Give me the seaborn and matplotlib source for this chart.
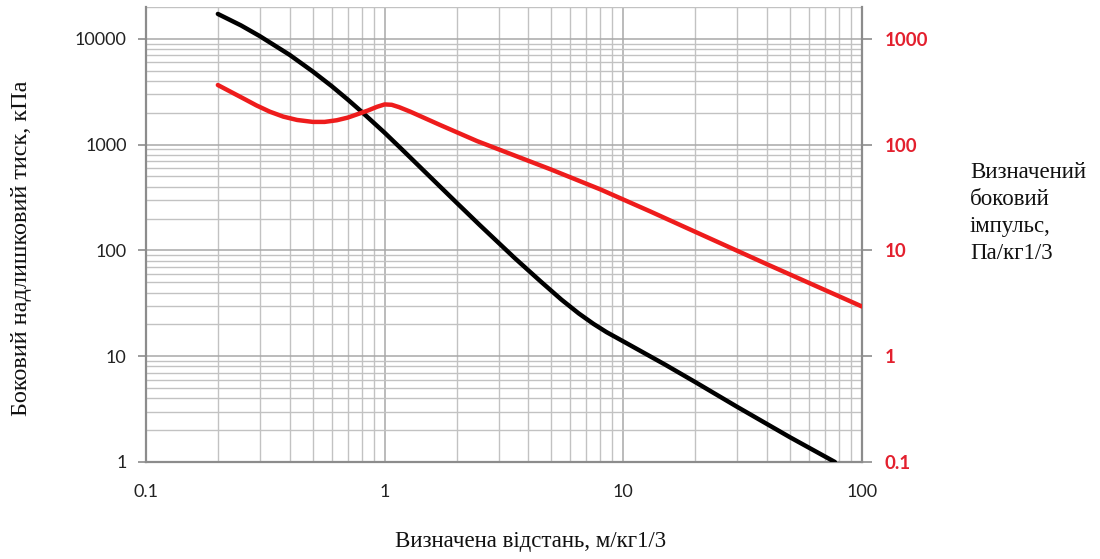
import numpy as np
import pandas as pd
import seaborn as sns
import matplotlib
matplotlib.use("Agg")
import matplotlib.pyplot as plt
from matplotlib.ticker import FixedLocator, LogLocator, NullFormatter

# ---- data ----
dist_pressure = [0.2, 0.25, 0.3, 0.4, 0.5, 0.6, 0.7, 0.8, 1.0, 1.2, 1.5, 2, 2.5, 3, 3.5, 4.5,
                 5.5, 6.5, 7.5, 8.5, 10, 15, 20, 30, 50, 77]
pressure_kpa = [17200, 13400, 10600, 7050, 4910, 3570, 2670, 2050, 1295, 871, 533, 283, 174, 118, 85, 51,
                34.3, 25.4, 20.2, 16.9, 13.8, 8.3, 5.7, 3.32, 1.71, 1.0]

dist_impulse = [0.2, 0.23, 0.26, 0.29, 0.33, 0.376, 0.43, 0.5, 0.56, 0.63, 0.7, 0.77, 0.85, 0.93,
                1.0, 1.07, 1.15, 1.28, 1.7, 2.44, 3.5, 4.94, 8, 13, 20, 40, 100]
impulse = [366, 310, 268, 235, 205, 184, 171, 164, 164, 170, 180, 194, 210, 228,
           240, 238, 226, 205, 154, 108, 79, 58.6, 37.8, 23.3, 15, 7.4, 2.95]

x_ticks = [0.1, 1, 10, 100]
x_ticklabels = ["0.1", "1", "10", "100"]
y_left_ticks = [1, 10, 100, 1000, 10000]
y_left_ticklabels = ["1", "10", "100", "1000", "10000"]
y_right_ticks = [0.1, 1, 10, 100, 1000]
y_right_ticklabels = ["0.1", "1", "10", "100", "1000"]

xlabel = "Визначена відстань, м/кг1/3"
ylabel_left = "Боковий надлишковий тиск, кПа"
ylabel_right = "Визначений\nбоковий\nімпульс,\nПа/кг1/3"

RED = "#ee1c1c"
TICK_RED = "#e3202e"
GRID = "#c2c2c2"
GRID_MAJOR = "#a8a8a8"
SPINE = "#8c8c8c"

sns.set_style("white")
plt.rcParams["font.family"] = ["Lato", "DejaVu Sans"]

fig = plt.figure(figsize=(11, 5.59), dpi=100)
ax = fig.add_axes([146 / 1100, 1 - 462 / 559, (862 - 146) / 1100, (462 - 7) / 559])

df_p = pd.DataFrame({"x": dist_pressure, "y": pressure_kpa})
df_i = pd.DataFrame({"x": dist_impulse, "y": impulse})

ax.set_xscale("log")
ax.set_yscale("log")
ax.set_xlim(0.1, 100)
ax.set_ylim(1, 20000)
ax.grid(True, which="minor", color=GRID, linewidth=1.0)
ax.grid(True, which="major", color=GRID_MAJOR, linewidth=1.1)
ax.set_axisbelow(True)

sns.lineplot(data=df_p, x="x", y="y", color="black", linewidth=3.2, ax=ax, sort=False, zorder=3)

ax2 = ax.twinx()
ax2.set_yscale("log")
ax2.set_ylim(0.1, 2000)
sns.lineplot(data=df_i, x="x", y="y", color=RED, linewidth=3.2, ax=ax2, sort=False, zorder=3)
ax.set_xlim(0.1, 100)

# ticks
ax.xaxis.set_major_locator(FixedLocator(x_ticks))
ax.set_xticklabels(x_ticklabels)
ax.xaxis.set_minor_locator(LogLocator(base=10, subs=np.arange(2, 10)))
ax.xaxis.set_minor_formatter(NullFormatter())
ax.yaxis.set_major_locator(FixedLocator(y_left_ticks))
ax.set_yticklabels(y_left_ticklabels)
ax.yaxis.set_minor_locator(LogLocator(base=10, subs=np.arange(2, 10)))
ax.yaxis.set_minor_formatter(NullFormatter())
ax2.yaxis.set_major_locator(FixedLocator(y_right_ticks))
ax2.set_yticklabels(y_right_ticklabels)
ax2.yaxis.set_minor_locator(LogLocator(base=10, subs=np.arange(2, 10)))
ax2.yaxis.set_minor_formatter(NullFormatter())

ax.tick_params(axis="both", which="major", direction="out", length=6, width=1.2,
               color=SPINE, labelsize=13, labelcolor="#222222", pad=8)
ax.tick_params(axis="x", which="major", pad=10)
ax.tick_params(which="minor", length=0)
ax2.tick_params(axis="y", which="major", direction="out", length=7, width=1.2,
                color=SPINE, labelsize=13.5, labelcolor=TICK_RED, pad=9)
ax2.tick_params(which="minor", length=0)
for lab in ax2.get_yticklabels():
    lab.set_fontweight("bold")

ax.set_xlabel("")
ax.set_ylabel("")
ax2.set_ylabel("")

for s in ["top", "right"]:
    ax.spines[s].set_visible(False)
for s in ["left", "bottom"]:
    ax.spines[s].set_color(SPINE)
    ax.spines[s].set_linewidth(1.6)
for s in ["top", "left", "bottom"]:
    ax2.spines[s].set_visible(False)
ax2.spines["right"].set_color(SPINE)
ax2.spines["right"].set_linewidth(1.6)

serif = ["Liberation Serif", "DejaVu Serif"]
fig.text(531 / 1100, 1 - 541 / 559, xlabel, ha="center", va="center",
         fontsize=16.5, family=serif, color="#111111")
fig.text(22 / 1100, 1 - 248 / 559, ylabel_left, ha="center", va="center",
         rotation=90, fontsize=17.5, family=serif, color="#111111")
fig.text(970 / 1100, 1 - 162 / 559, ylabel_right, ha="left", va="top",
         fontsize=16.5, family=serif, color="#111111", linespacing=1.38)

fig.savefig("out.png", dpi=100)
